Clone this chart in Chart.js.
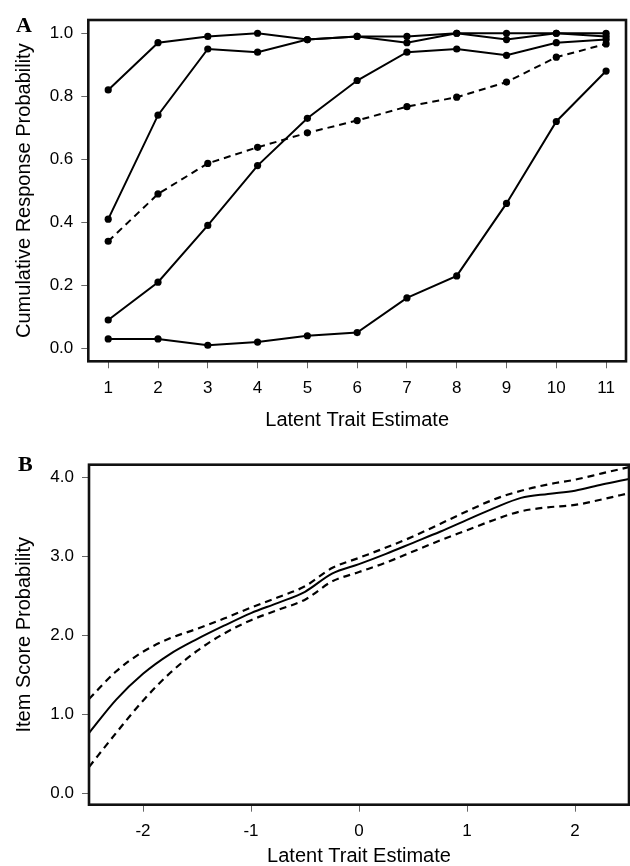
<!DOCTYPE html>
<html>
<head>
<meta charset="utf-8">
<script src="https://cdn.jsdelivr.net/npm/chart.js@4.4.1/dist/chart.umd.min.js"></script>
<style>
  body { margin: 0; background: #fff; width: 630px; height: 866px; overflow: hidden; position: relative; }
  canvas { position: absolute; left: 0; }
  #chartA { top: 0; }
  #chartB { top: 440px; }
  .panel { position: absolute; font-family: "Liberation Serif", "Times New Roman", serif; font-weight: bold; font-size: 22px; line-height: 1; color: #000; }
</style>
</head>
<body>
<canvas id="chartA" width="630" height="440"></canvas>
<canvas id="chartB" width="630" height="426"></canvas>
<div class="panel" style="left:16px; top:14px;">A</div>
<div class="panel" style="left:18px; top:453px;">B</div>
<script>
// Panel A - cumulative response probabilities per trait level
const traitA = [1, 2, 3, 4, 5, 6, 7, 8, 9, 10, 11];
const curve1 = [0.82, 0.97, 0.99, 1.00, 0.98, 0.99, 0.99, 1.00, 1.00, 1.00, 1.00];
const curve2 = [0.41, 0.74, 0.95, 0.94, 0.98, 0.99, 0.97, 1.00, 0.98, 1.00, 0.99];
const curve3 = [0.09, 0.21, 0.39, 0.58, 0.73, 0.85, 0.94, 0.95, 0.93, 0.97, 0.98];
const curve4 = [0.34, 0.49, 0.587, 0.638, 0.684, 0.723, 0.767, 0.797, 0.845, 0.924, 0.966]; // dashed
const curve5 = [0.03, 0.03, 0.01, 0.02, 0.04, 0.05, 0.16, 0.23, 0.46, 0.72, 0.88];
const xTicksA = [1, 2, 3, 4, 5, 6, 7, 8, 9, 10, 11];
const yTicksA = [0, 0.2, 0.4, 0.6, 0.8, 1.0];

// Panel B - item score curve with upper / lower bands
const traitB = [-2.5, -2.25, -2, -1.75, -1.5, -1.25, -1, -0.75, -0.5, -0.25, 0, 0.25, 0.5, 0.75, 1, 1.25, 1.5, 1.75, 2, 2.25, 2.5];
const scoreUpper = [1.19, 1.54, 1.79, 1.96, 2.08, 2.21, 2.35, 2.48, 2.62, 2.85, 2.98, 3.11, 3.25, 3.41, 3.57, 3.72, 3.83, 3.91, 3.97, 4.05, 4.13];
const scoreMid = [0.76, 1.18, 1.51, 1.76, 1.95, 2.12, 2.28, 2.41, 2.55, 2.78, 2.90, 3.03, 3.17, 3.31, 3.46, 3.61, 3.74, 3.79, 3.83, 3.91, 3.98];
const scoreLower = [0.33, 0.76, 1.17, 1.52, 1.80, 2.02, 2.19, 2.32, 2.45, 2.68, 2.80, 2.92, 3.06, 3.20, 3.33, 3.46, 3.57, 3.62, 3.65, 3.72, 3.80];
const xTicksB = [-2, -1, 0, 1, 2];
const yTicksB = [0, 1, 2, 3, 4];

const FONT = '"Liberation Sans", Arial, Helvetica, sans-serif';
const INK = '#000';

function toPoints(xs, ys) {
    return xs.map((x, i) => ({ x: x, y: ys[i] }));
}

// black frame round the plot area, like R's box()
const boxPlugin = {
    id: 'box',
    afterDraw(chart) {
        const a = chart.chartArea;
        const ctx = chart.ctx;
        ctx.save();
        ctx.strokeStyle = '#111';
        ctx.lineWidth = 2.6;
        ctx.strokeRect(a.left, a.top, a.right - a.left, a.bottom - a.top);
        ctx.restore();
    }
};

function axisOptions(opts) {
    return {
        type: 'linear',
        min: opts.min,
        max: opts.max,
        afterBuildTicks: (scale) => { scale.ticks = opts.ticks.map(v => ({ value: v })); },
        afterFit: opts.afterFit,
        border: { display: false },
        grid: { drawOnChartArea: false, drawTicks: true, tickLength: 7, color: '#666', lineWidth: 1 },
        ticks: {
            color: INK,
            padding: opts.padding,
            font: { family: FONT, size: 17 },
            maxRotation: 0,
            autoSkip: false,
            callback: opts.format
        },
        title: {
            display: true,
            text: opts.title,
            color: INK,
            font: { family: FONT, size: 20, lineHeight: opts.titleLine || 1.2 },
            padding: opts.titlePad
        }
    };
}

function baseOptions(layoutPad, xAxis, yAxis) {
    return {
        responsive: false,
        animation: false,
        layout: { padding: layoutPad },
        plugins: { legend: { display: false }, tooltip: { enabled: false } },
        scales: { x: xAxis, y: yAxis }
    };
}

// Panel A
const lineA = (data, dashed) => ({
    data: toPoints(traitA, data),
    borderColor: INK,
    borderWidth: 2,
    borderDash: dashed ? [7, 5] : [],
    pointRadius: 3.6,
    pointBackgroundColor: INK,
    pointBorderWidth: 0,
    tension: 0
});

new Chart(document.getElementById('chartA'), {
    type: 'line',
    data: {
        datasets: [lineA(curve1), lineA(curve2), lineA(curve3), lineA(curve4, true), lineA(curve5)]
    },
    options: baseOptions(
        { left: 0, top: 20, right: 3.3, bottom: 0 },
        axisOptions({
            min: 0.6, max: 11.4, ticks: xTicksA, padding: 10,
            format: (v) => String(v),
            title: 'Latent Trait Estimate', titlePad: { top: 0, bottom: 8 },
            afterFit: (s) => { s.height = 78.7; }
        }),
        axisOptions({
            min: -0.041, max: 1.042, ticks: yTicksA, padding: 8,
            format: (v) => v.toFixed(1),
            title: 'Cumulative Response Probability', titlePad: { top: 12, bottom: 0 },
            afterFit: (s) => { s.width = 88.3; }
        })
    ),
    plugins: [boxPlugin]
});

// Panel B
const lineB = (data, dashed) => ({
    data: toPoints(traitB, data),
    borderColor: INK,
    borderWidth: dashed ? 2.2 : 2,
    borderDash: dashed ? [7, 5] : [],
    pointRadius: 0,
    cubicInterpolationMode: 'monotone'
});

new Chart(document.getElementById('chartB'), {
    type: 'line',
    data: {
        datasets: [lineB(scoreUpper, true), lineB(scoreMid), lineB(scoreLower, true)]
    },
    options: baseOptions(
        { left: 0, top: 24.7, right: 1, bottom: 0 },
        axisOptions({
            min: -2.5, max: 2.5, ticks: xTicksB, padding: 9.5,
            format: (v) => String(v),
            title: 'Latent Trait Estimate', titlePad: { top: 0, bottom: 0 }, titleLine: 0.95,
            afterFit: (s) => { s.height = 61.3; }
        }),
        axisOptions({
            min: -0.148, max: 4.16, ticks: yTicksB, padding: 8,
            format: (v) => v.toFixed(1),
            title: 'Item Score Probability', titlePad: { top: 12, bottom: 0 },
            afterFit: (s) => { s.width = 89; }
        })
    ),
    plugins: [boxPlugin]
});
</script>
</body>
</html>
